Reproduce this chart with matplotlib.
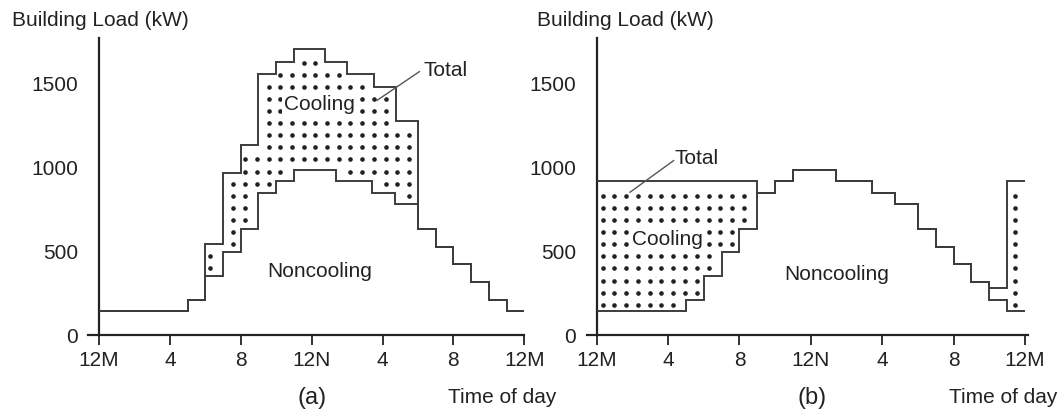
"""Building load profiles: conventional day (a) vs. cooling shifted to off-peak storage (b)."""

import matplotlib.pyplot as plt
import numpy as np

plt.rcParams['font.family'] = ['Liberation Sans', 'DejaVu Sans']

# step edges in hours (0 = midnight) and the load in kW held over each step
noncool_hours = [0, 5, 6, 7, 8, 9, 10, 11, 13.4, 15.4, 16.7, 18, 19, 20, 21, 22, 23, 24]
noncool_kw = [140, 210, 350, 495, 630, 845, 915, 980, 915, 845, 780, 630, 525, 420, 315, 210, 140]

total_a_hours = [0, 5, 6, 7, 8, 9, 10, 11, 12.75, 14, 15.5, 16.75, 18, 19, 20, 21, 22, 23, 24]
total_a_kw = [140, 210, 540, 965, 1130, 1550, 1625, 1700, 1625, 1550, 1475, 1270,
              630, 525, 420, 315, 210, 140]

total_b_hours = [0, 9, 10, 11, 13.4, 15.4, 16.7, 18, 19, 20, 21, 22, 23, 24]
total_b_kw = [915, 845, 915, 980, 915, 845, 780, 630, 525, 420, 315, 280, 915]

hour_ticks = [0, 4, 8, 12, 16, 20, 24]
hour_labels = ['12M', '4', '8', '12N', '4', '8', '12M']
load_ticks = [0, 500, 1000, 1500]

LINE = '#3c3c3c'
INK = '#222222'
FS = 15


def step_at(hours, kw, x):
    idx = np.searchsorted(hours, x, side='right') - 1
    idx = np.clip(idx, 0, len(kw) - 1)
    return np.asarray(kw)[idx]


def dot_fill(ax, total_hours, total_kw):
    # stipple the band between the noncooling and total curves
    gx, gy = np.meshgrid(np.arange(0.33, 24, 0.66), np.arange(36, 1800, 72))
    lo = np.max([step_at(noncool_hours, noncool_kw, gx + d) for d in (-0.22, 0, 0.22)], axis=0)
    hi = np.min([step_at(total_hours, total_kw, gx + d) for d in (-0.22, 0, 0.22)], axis=0)
    inside = (gy > lo + 28) & (gy < hi - 28)
    ax.scatter(gx[inside], gy[inside], s=11, color=INK, linewidths=0, zorder=2)


def style_axes(ax):
    ax.set_ylim(0, 1766)
    for side in ('top', 'right'):
        ax.spines[side].set_visible(False)
    ax.spines['left'].set_position(('data', 0))
    for side in ('left', 'bottom'):
        ax.spines[side].set_linewidth(1.6)
        ax.spines[side].set_color(INK)
    ax.set_xticks(hour_ticks, hour_labels)
    ax.set_yticks(load_ticks)
    ax.tick_params(axis='x', direction='out', length=7, width=1.3, pad=4,
                   labelsize=FS, colors=INK)
    ax.tick_params(axis='y', length=0, pad=15, labelsize=FS, colors=INK)
    ax.patch.set_visible(False)


fig = plt.figure(figsize=(10.57, 4.10), dpi=100)
ax_a = fig.add_axes([0.0836, 0.1805, 0.4124, 0.7244])
ax_b = fig.add_axes([0.5552, 0.1805, 0.4171, 0.7244])
ax_a.set_xlim(-0.6, 24)
ax_b.set_xlim(-0.55, 24.15)

for ax, th, tk in ((ax_a, total_a_hours, total_a_kw), (ax_b, total_b_hours, total_b_kw)):
    ax.stairs(noncool_kw, noncool_hours, baseline=None, color=LINE, linewidth=1.4, zorder=3)
    ax.stairs(tk, th, baseline=None, color=LINE, linewidth=1.4, zorder=3)
    dot_fill(ax, th, tk)
    style_axes(ax)

label_box = dict(facecolor='white', edgecolor='none', pad=1.0)

ax_a.text(12.43, 1375, 'Cooling', fontsize=FS, color=INK, ha='center', va='center',
          bbox=label_box, zorder=4)
ax_a.text(12.43, 386, 'Noncooling', fontsize=FS, color=INK, ha='center', va='center', zorder=4)
ax_a.text(19.55, 1581, 'Total', fontsize=FS, color=INK, ha='center', va='center', zorder=4)
ax_a.plot([18.08, 15.69], [1566, 1395], color='#555555', linewidth=1.0, zorder=4)

ax_b.text(3.99, 571, 'Cooling', fontsize=FS, color=INK, ha='center', va='center',
          bbox=label_box, zorder=4)
ax_b.text(13.44, 367, 'Noncooling', fontsize=FS, color=INK, ha='center', va='center', zorder=4)
ax_b.text(5.62, 1053, 'Total', fontsize=FS, color=INK, ha='center', va='center', zorder=4)
ax_b.plot([4.31, 1.87], [1037, 849], color='#555555', linewidth=1.0, zorder=4)

fig.text(0.011, 0.951, 'Building Load (kW)', fontsize=FS, color=INK, va='center')
fig.text(0.508, 0.951, 'Building Load (kW)', fontsize=FS, color=INK, va='center')
fig.text(0.2956, 0.030, '(a)', fontsize=FS + 2, color=INK, ha='center', va='center')
fig.text(0.7682, 0.030, '(b)', fontsize=FS + 2, color=INK, ha='center', va='center')
fig.text(0.4235, 0.030, 'Time of day', fontsize=FS, color=INK, va='center')
fig.text(0.8975, 0.030, 'Time of day', fontsize=FS, color=INK, va='center')

fig.savefig('out.png', dpi=100)
